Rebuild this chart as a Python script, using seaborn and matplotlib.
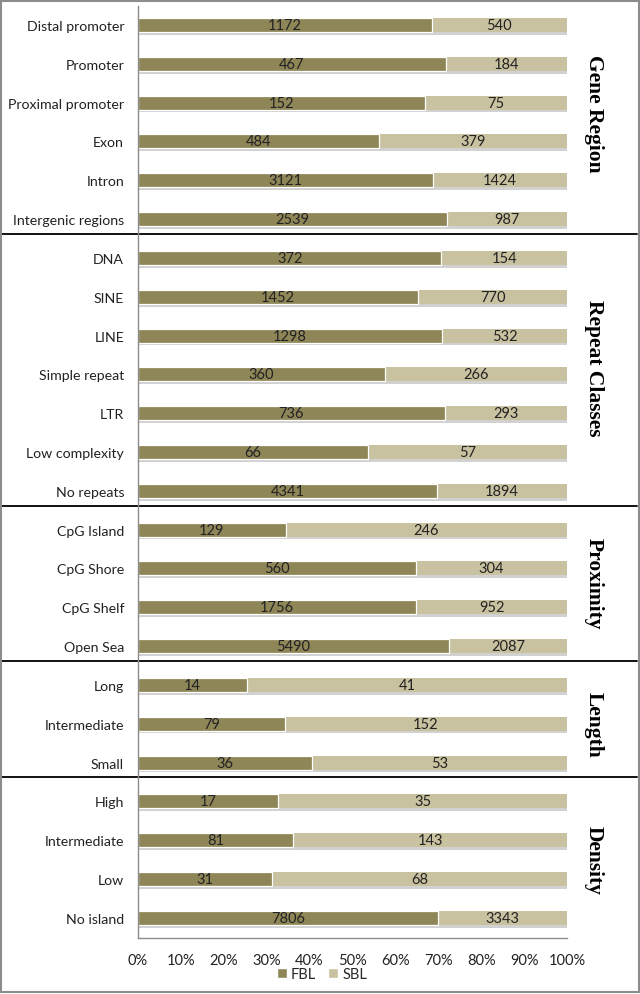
import matplotlib
matplotlib.use("Agg")
import matplotlib.pyplot as plt
import matplotlib.patheffects as pe
from matplotlib.lines import Line2D
from matplotlib.patches import Rectangle, Patch
import matplotlib.transforms as mtrans
import seaborn as sns
import pandas as pd
import numpy as np

categories = ["Distal promoter", "Promoter", "Proximal promoter", "Exon", "Intron",
              "Intergenic regions",
              "DNA", "SINE", "LINE", "Simple repeat", "LTR", "Low complexity", "No repeats",
              "CpG Island", "CpG Shore", "CpG Shelf", "Open Sea",
              "Long", "Intermediate", "Small",
              "High", "Intermediate", "Low", "No island"]
fbl = [1172, 467, 152, 484, 3121, 2539,
       372, 1452, 1298, 360, 736, 66, 4341,
       129, 560, 1756, 5490,
       14, 79, 36,
       17, 81, 31, 7806]
sbl = [540, 184, 75, 379, 1424, 987,
       154, 770, 532, 266, 293, 57, 1894,
       246, 304, 952, 2087,
       41, 152, 53,
       35, 143, 68, 3343]
groups = ["Gene Region", "Repeat Classes", "Proximity", "Length", "Density"]
group_sizes = [6, 7, 4, 3, 4]
xticks = [0, 10, 20, 30, 40, 50, 60, 70, 80, 90, 100]

FBL_C = "#8f8658"
SBL_C = "#c9c2a0"

sns.set_style("white")
plt.rcParams["font.family"] = ["Lato", "DejaVu Sans"]

df = pd.DataFrame({"row": list(range(len(categories))), "label": categories,
                   "FBL": fbl, "SBL": sbl})
df["total"] = df["FBL"] + df["SBL"]
df["fbl_pct"] = df["FBL"] / df["total"] * 100
df["all_pct"] = 100.0

fig = plt.figure(figsize=(6.4, 9.95), dpi=100)
ax = fig.add_axes([138/640, 1-939/995, (567-138)/640, (939-7)/995])

sns.barplot(data=df, x="all_pct", y="row", orient="h", color=SBL_C, width=0.36,
            ax=ax, saturation=1, edgecolor="none")
n_sbl = len(ax.patches)
sns.barplot(data=df, x="fbl_pct", y="row", orient="h", color=FBL_C, width=0.36,
            ax=ax, saturation=1, edgecolor="white", linewidth=0.9)
for p in ax.patches[:n_sbl]:
    p.set_path_effects([pe.SimplePatchShadow(offset=(1, -2), shadow_rgbFace="#9a9a9a", alpha=0.45),
                        pe.Normal()])

for i, r in df.iterrows():
    ax.text(r["fbl_pct"] / 2, i, str(r["FBL"]), ha="center", va="center", fontsize=10.5, color="#222222")
    ax.text(r["fbl_pct"] + (100 - r["fbl_pct"]) / 2, i, str(r["SBL"]), ha="center", va="center",
            fontsize=10.5, color="#222222")

ax.set_xlim(0, 100)
ax.set_ylim(len(categories) - 0.48, -0.49)
ax.set_xticks(xticks)
ax.set_xticklabels([f"{t}%" for t in xticks], fontsize=10.5, color="#222222")
ax.set_yticks(range(len(categories)))
ax.set_yticklabels(categories, fontsize=10.2, color="#222222")
ax.tick_params(axis="y", length=0, pad=10)
ax.tick_params(axis="x", length=0, pad=11)
ax.set_xlabel("")
ax.set_ylabel("")
for s in ["top", "right"]:
    ax.spines[s].set_visible(False)
for s in ["left", "bottom"]:
    ax.spines[s].set_color("#8c8c8c")
    ax.spines[s].set_linewidth(1.0)

# separators and group labels
trans = mtrans.blended_transform_factory(fig.transFigure, ax.transData)
label_shift = [-0.24, -0.19, -0.13, 0.0, 0.0]
start = 0
for g, n, sh in zip(groups, group_sizes, label_shift):
    end = start + n
    center = (start + end - 1) / 2 + sh
    ax.text(594/640, center, g, transform=trans, rotation=270, ha="center", va="center",
            fontsize=15.5, fontweight="bold", family="Liberation Serif", color="black")
    if end < len(categories):
        yline = end - 0.5 - 0.12
        ax.add_line(Line2D([0.0, 0.995], [yline, yline], transform=trans, color="#111111",
                           linewidth=1.4, clip_on=False))
    start = end

handles = [Patch(facecolor=FBL_C, label="FBL"), Patch(facecolor=SBL_C, label="SBL")]
fig.legend(handles=handles, loc="center", bbox_to_anchor=(322/640, 1-975/995), ncol=2,
           frameon=False, fontsize=10.5, handlelength=0.7, handleheight=0.7,
           handletextpad=0.3, columnspacing=0.8, borderpad=0.1)

fig.add_artist(Rectangle((0.002, 0.002), 0.996, 0.996, transform=fig.transFigure,
                         fill=False, edgecolor="#8c8c8c", linewidth=1.5))

fig.savefig("out.png", dpi=100)
